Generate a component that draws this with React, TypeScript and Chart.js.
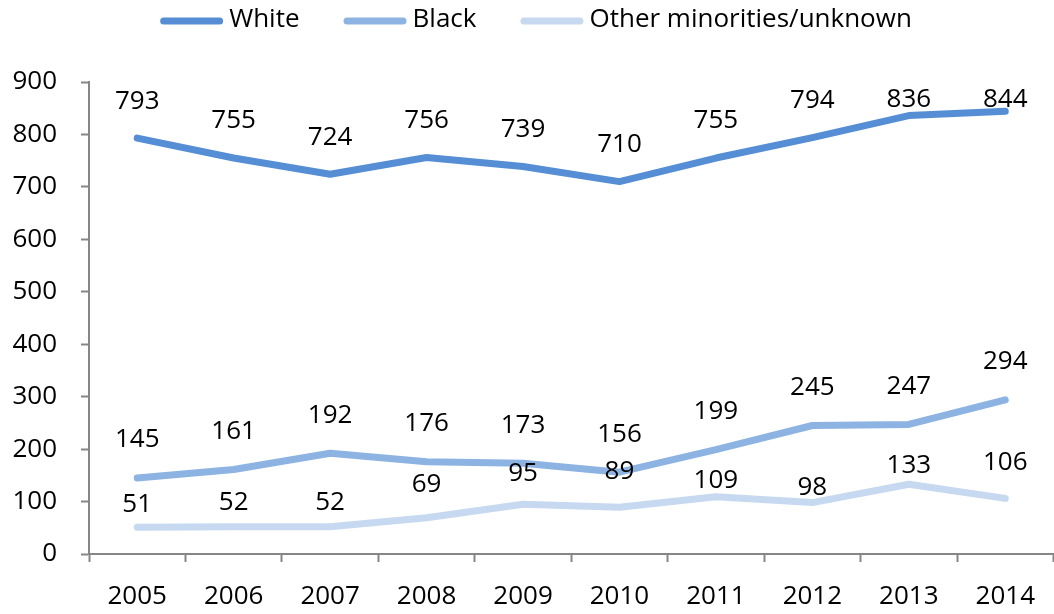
import React, { useEffect, useRef } from "react";
import { Chart, registerables } from "chart.js";

Chart.register(...registerables);

const years = ["2005", "2006", "2007", "2008", "2009", "2010", "2011", "2012", "2013", "2014"];
const whiteValues = [793, 755, 724, 756, 739, 710, 755, 794, 836, 844];
const blackValues = [145, 161, 192, 176, 173, 156, 199, 245, 247, 294];
const otherValues = [51, 52, 52, 69, 95, 89, 109, 98, 133, 106];
const seriesNames = ["White", "Black", "Other minorities/unknown"];
const seriesColors = ["#558ED5", "#8DB3E2", "#C6D9F1"];

// label lift (pixels above the point) – style only
const whiteLift = 37;
const blackLift = 38;
const otherLift = [23, 24, 24, 33, 31, 36, 16, 15, 19, 36];

const FONT = "'Open Sans', sans-serif";
const FONT_SIZE = 26;

const labelPlugin = {
  id: "valueLabels",
  afterDatasetsDraw(chart: any) {
    const ctx = chart.ctx;
    ctx.save();
    ctx.font = `${FONT_SIZE}px ${FONT}`;
    ctx.fillStyle = "#000";
    ctx.textAlign = "center";
    ctx.textBaseline = "middle";
    const minY = chart.chartArea.top + 18;
    chart.data.datasets.forEach((ds: any, di: number) => {
      const meta = chart.getDatasetMeta(di);
      meta.data.forEach((pt: any, i: number) => {
        const lift = di === 0 ? whiteLift : di === 1 ? blackLift : otherLift[i];
        let y = pt.y - lift;
        if (di === 0) y = Math.max(y, minY);
        ctx.fillText(String(ds.data[i]), pt.x, y);
      });
    });
    ctx.restore();
  },
};

const legendPlugin = {
  id: "lineLegend",
  afterDraw(chart: any) {
    const ctx = chart.ctx;
    ctx.save();
    ctx.font = `${FONT_SIZE}px ${FONT}`;
    const boxW = 63;
    const boxGap = 6;
    const itemGap = 44;
    const y = 21;
    const widths = chart.data.datasets.map((d: any) => ctx.measureText(d.label).width);
    const total =
      widths.reduce((a: number, b: number) => a + b, 0) +
      widths.length * (boxW + boxGap) +
      (widths.length - 1) * itemGap;
    let x = chart.width / 2 + 9 - total / 2;
    chart.data.datasets.forEach((d: any, i: number) => {
      ctx.strokeStyle = d.borderColor;
      ctx.lineWidth = 7;
      ctx.lineCap = "round";
      ctx.beginPath();
      ctx.moveTo(x + 3.5, y);
      ctx.lineTo(x + boxW - 3.5, y);
      ctx.stroke();
      ctx.fillStyle = "#000";
      ctx.textAlign = "left";
      ctx.textBaseline = "middle";
      ctx.fillText(d.label, x + boxW + boxGap, y - 1);
      x += boxW + boxGap + widths[i] + itemGap;
    });
    ctx.restore();
  },
};

export default function App() {
  const canvasRef = useRef<HTMLCanvasElement | null>(null);

  useEffect(() => {
    if (!canvasRef.current) return;
    const mk = (label: string, data: number[], color: string) => ({
      label,
      data,
      borderColor: color,
      backgroundColor: color,
      borderWidth: 7,
      pointRadius: 0,
      pointHoverRadius: 0,
      tension: 0,
      borderJoinStyle: "round" as const,
      borderCapStyle: "round" as const,
      fill: false,
    });
    const chart = new Chart(canvasRef.current, {
      type: "line",
      data: {
        labels: years,
        datasets: [
          mk(seriesNames[0], whiteValues, seriesColors[0]),
          mk(seriesNames[1], blackValues, seriesColors[1]),
          mk(seriesNames[2], otherValues, seriesColors[2]),
        ],
      },
      options: {
        animation: false,
        responsive: true,
        maintainAspectRatio: false,
        layout: { padding: { top: 82, left: 0, right: 0, bottom: 0 } },
        plugins: {
          legend: { display: false },
          tooltip: { enabled: false },
        },
        scales: {
          x: {
            type: "category",
            offset: true,
            afterFit(scale: any) {
              scale.height = 60;
            },
            grid: {
              offset: true,
              drawOnChartArea: false,
              drawTicks: true,
              tickLength: 8,
              tickWidth: 2,
              tickColor: "#868686",
            },
            border: { display: true, color: "#868686", width: 2 },
            ticks: {
              color: "#000",
              padding: 19,
              font: { family: FONT, size: FONT_SIZE },
              maxRotation: 0,
            },
          },
          y: {
            min: 0,
            max: 900,
            afterFit(scale: any) {
              scale.width = 89;
            },
            grid: {
              drawOnChartArea: false,
              drawTicks: true,
              tickLength: 8,
              tickWidth: 2,
              tickColor: "#868686",
            },
            border: { display: true, color: "#868686", width: 2 },
            ticks: {
              stepSize: 100,
              color: "#000",
              padding: 24,
              font: { family: FONT, size: FONT_SIZE },
            },
          },
        },
      },
      plugins: [labelPlugin, legendPlugin],
    });
    return () => chart.destroy();
  }, []);

  return (
    <div style={{ position: "fixed", left: 0, top: 0, width: 1054, height: 614, background: "#fff" }}>
      <canvas ref={canvasRef} />
    </div>
  );
}
